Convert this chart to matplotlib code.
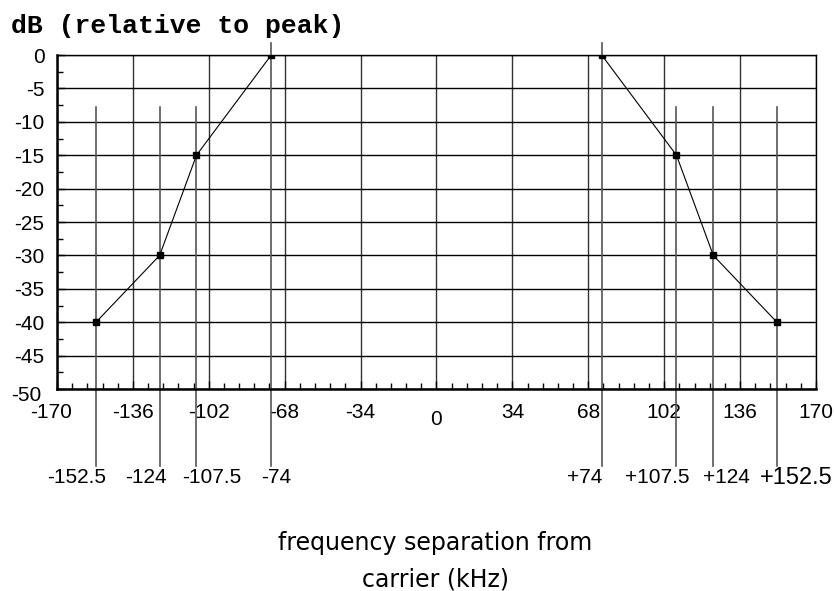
import matplotlib
matplotlib.use("Agg")
import matplotlib.pyplot as plt
import matplotlib.transforms as mtransforms
import numpy as np

# measured mask points (kHz, dB)
left_freq = [-152.5, -124, -107.5, -74]
left_db = [-40, -30, -15, 0]
right_freq = [74, 107.5, 124, 152.5]
right_db = [0, -15, -30, -40]

x_ticks = [-170, -136, -102, -68, -34, 0, 34, 68, 102, 136, 170]
y_ticks = [0, -5, -10, -15, -20, -25, -30, -35, -40, -45, -50]

# labels under the chart for each marker line
marker_labels = ["-152.5", "-124", "-107.5", "-74", "+74", "+107.5", "+124", "+152.5"]
marker_freq = left_freq + right_freq
label_x = [-161, -130, -100.5, -72, 66.5, 99, 130, 161]

plt.rcParams['font.family'] = ['Liberation Sans', 'DejaVu Sans']

fig = plt.figure(figsize=(8.34, 5.91), dpi=100)
ax = fig.add_axes([0.0683, 0.3418, 0.9101, 0.5651])

ax.set_xlim(-170, 170)
ax.set_ylim(-50, 0)

# grid
for x in x_ticks:
    ax.axvline(x, color='#333333', lw=1.0, zorder=1)
for y in y_ticks:
    ax.axhline(y, color='black', lw=1.0, zorder=1)

# vertical marker lines, running past the axes
for f in marker_freq:
    top = 1.8 if abs(f) == 74 else -7.8
    ax.plot([f, f], [top, -61.5], color='#555555', lw=1.2, clip_on=False, zorder=2)

ax.plot(left_freq, left_db, color='black', lw=0.8, marker='s', ms=4.5, zorder=3)
ax.plot(right_freq, right_db, color='black', lw=0.8, marker='s', ms=4.5, zorder=3)

for lab, lx in zip(marker_labels, label_x):
    size = 17 if lab == "+152.5" else 15
    ax.text(lx, -63.3, lab, ha='center', va='center', fontsize=size, clip_on=False)

ax.set_xticks(x_ticks)
ax.set_xticklabels([str(v) for v in x_ticks])
ax.set_yticks(y_ticks)
ax.set_yticklabels([str(v) for v in y_ticks])
ax.set_xticks(np.arange(-170, 170.1, 6.8), minor=True)
ax.set_yticks(np.arange(-50, 0.1, 2.5), minor=True)
ax.tick_params(axis='both', which='major', direction='in', length=6, width=1, labelsize=15)
ax.tick_params(axis='x', which='major', pad=10)
ax.tick_params(axis='y', which='major', pad=9)
ax.tick_params(axis='both', which='minor', direction='in', length=4, width=1)

# a few tick labels sit a bit off in the original
for lbl in ax.get_xticklabels():
    if lbl.get_text() == "0":
        lbl.set_transform(lbl.get_transform() + mtransforms.ScaledTranslation(0, -5/72, fig.dpi_scale_trans))
    if lbl.get_text() == "-170":
        lbl.set_transform(lbl.get_transform() + mtransforms.ScaledTranslation(-4/72, 0, fig.dpi_scale_trans))
for lbl in ax.get_yticklabels():
    if lbl.get_text() == "-50":
        lbl.set_transform(lbl.get_transform() + mtransforms.ScaledTranslation(-2/72, -3/72, fig.dpi_scale_trans))

for s in ax.spines.values():
    s.set_linewidth(1.0)
ax.spines['left'].set_linewidth(1.8)
ax.spines['bottom'].set_linewidth(1.8)

fig.text(0.013, 1 - 26/591, "dB (relative to peak)", family='Liberation Mono',
         fontweight='bold', fontsize=19, ha='left', va='center')
fig.text(0.522, 1 - 543/591, "frequency separation from", family='DejaVu Sans',
         fontsize=17, ha='center', va='center')
fig.text(0.522, 1 - 580/591, "carrier (kHz)", family='DejaVu Sans',
         fontsize=17, ha='center', va='center')

fig.savefig("out.png", dpi=100)
